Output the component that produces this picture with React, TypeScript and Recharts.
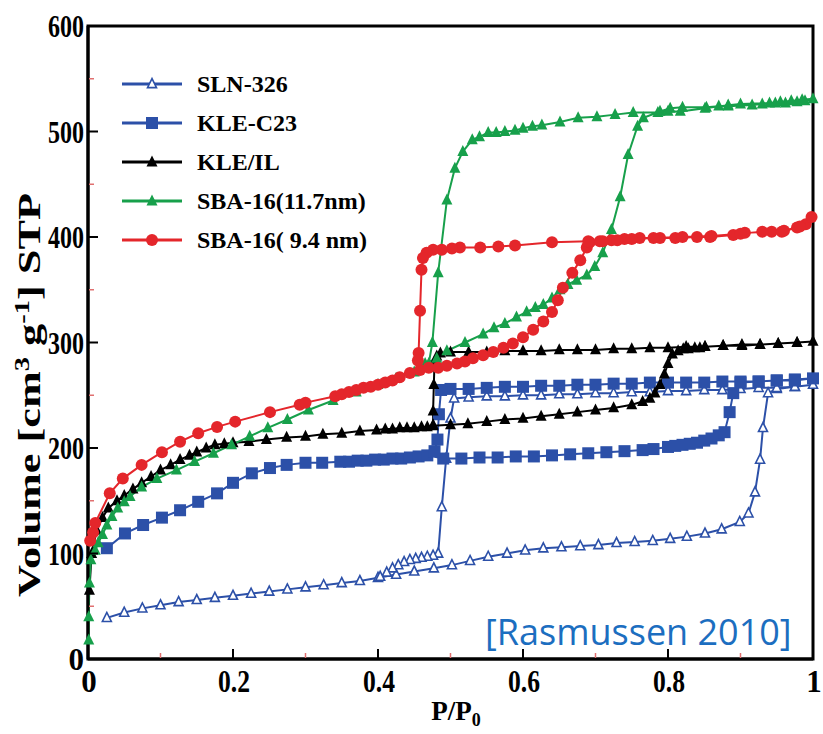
import React from 'react'
import { LineChart, Line, XAxis, YAxis, Legend, ReferenceArea } from 'recharts'

type Pt = [number, number]

// SLN-326 (open triangles)
const slnAds: Pt[] = [
  [0.026, 39], [0.05, 44], [0.075, 48], [0.1, 51], [0.125, 54], [0.15, 56], [0.175, 58], [0.2, 60],
  [0.225, 62], [0.25, 64], [0.275, 66], [0.3, 68], [0.325, 70], [0.35, 72], [0.375, 74], [0.4, 77],
  [0.425, 80], [0.45, 83], [0.477, 86], [0.502, 89], [0.527, 93], [0.552, 97], [0.578, 100], [0.603, 103],
  [0.628, 105], [0.653, 106], [0.679, 107], [0.704, 108], [0.729, 110], [0.754, 111], [0.779, 112],
  [0.803, 114], [0.826, 116], [0.851, 119], [0.874, 123], [0.899, 130], [0.911, 138], [0.92, 158],
  [0.927, 189], [0.931, 219], [0.938, 252], [0.95, 256], [0.975, 258], [1.0, 260],
]
const slnDes: Pt[] = [
  [0.975, 258], [0.95, 257], [0.925, 257], [0.9, 256], [0.875, 255], [0.85, 255], [0.825, 254], [0.8, 254],
  [0.775, 253], [0.75, 253], [0.725, 252], [0.7, 252], [0.675, 251], [0.65, 251], [0.625, 250], [0.6, 250],
  [0.575, 249], [0.55, 249], [0.525, 248], [0.505, 247], [0.5, 228], [0.494, 190], [0.488, 144], [0.483, 100],
  [0.476, 98], [0.468, 97], [0.46, 96], [0.452, 95], [0.444, 94], [0.436, 92], [0.428, 89], [0.42, 86],
  [0.412, 82], [0.403, 78],
]

// KLE-C23 (filled squares)
const kleAds: Pt[] = [
  [0.026, 105], [0.051, 119], [0.076, 127], [0.102, 134], [0.127, 141], [0.152, 149], [0.178, 157], [0.2, 167],
  [0.226, 176], [0.251, 181], [0.274, 184], [0.3, 186], [0.323, 186], [0.348, 187], [0.36, 187], [0.372, 188],
  [0.384, 188], [0.396, 189], [0.408, 189], [0.42, 190], [0.432, 190], [0.444, 191], [0.456, 192], [0.468, 193],
  [0.49, 190], [0.515, 190], [0.54, 191], [0.565, 191], [0.59, 192], [0.615, 192], [0.64, 193], [0.665, 194],
  [0.69, 195], [0.715, 196], [0.74, 197], [0.765, 198], [0.78, 199], [0.8, 201], [0.81, 202], [0.82, 203],
  [0.83, 204], [0.84, 205], [0.85, 207], [0.86, 209], [0.87, 212], [0.878, 215], [0.885, 234], [0.89, 252],
  [0.9, 262], [0.925, 263], [0.95, 264], [0.975, 265], [1.0, 266],
]
const kleDes: Pt[] = [
  [0.975, 264], [0.95, 264], [0.925, 263], [0.9, 263], [0.875, 263], [0.85, 262], [0.825, 262], [0.8, 262],
  [0.775, 262], [0.75, 261], [0.725, 261], [0.7, 260], [0.675, 260], [0.65, 259], [0.625, 259], [0.6, 258],
  [0.575, 258], [0.55, 257], [0.525, 256], [0.5, 256], [0.487, 255], [0.484, 232], [0.482, 208], [0.478, 197],
]

// KLE/IL (filled black triangles)
const ilAds: Pt[] = [
  [0.002, 65], [0.005, 100], [0.012, 122], [0.02, 134], [0.028, 143], [0.04, 150], [0.05, 155], [0.062, 161],
  [0.074, 167], [0.087, 173], [0.1, 179], [0.114, 184], [0.127, 189], [0.14, 193], [0.15, 196], [0.163, 200],
  [0.175, 203], [0.188, 204], [0.2, 205], [0.222, 206], [0.246, 208], [0.274, 210], [0.3, 211], [0.324, 213],
  [0.35, 214], [0.375, 216], [0.398, 217], [0.41, 218], [0.42, 218], [0.43, 219], [0.44, 219], [0.45, 219],
  [0.46, 220], [0.468, 220], [0.476, 221], [0.5, 222], [0.524, 223], [0.55, 225], [0.575, 227], [0.6, 228],
  [0.625, 230], [0.65, 232], [0.675, 234], [0.7, 236], [0.725, 238], [0.75, 241], [0.765, 244], [0.775, 247],
  [0.782, 252], [0.789, 260], [0.795, 270], [0.8, 280], [0.806, 289], [0.814, 292], [0.821, 294], [0.828, 294],
  [0.837, 295], [0.844, 295], [0.851, 296], [0.876, 297], [0.902, 298], [0.927, 298], [0.952, 299],
  [0.978, 300], [1.0, 301],
]
const ilDes: Pt[] = [
  [0.978, 300], [0.952, 299], [0.927, 298], [0.902, 297], [0.876, 297], [0.851, 296], [0.825, 296], [0.8, 295],
  [0.775, 295], [0.75, 294], [0.725, 294], [0.7, 293], [0.675, 293], [0.65, 293], [0.625, 292], [0.6, 292],
  [0.575, 292], [0.55, 291], [0.525, 291], [0.5, 291], [0.486, 290], [0.481, 287], [0.478, 282], [0.477, 260],
  [0.476, 235], [0.476, 222],
]

// SBA-16 (11.7 nm) (filled green triangles)
const sbaLargeAds: Pt[] = [
  [0.001, 18], [0.001, 40], [0.002, 72], [0.004, 94], [0.01, 103], [0.014, 110], [0.02, 118], [0.026, 127],
  [0.033, 135], [0.041, 143], [0.05, 149], [0.058, 154], [0.074, 163], [0.095, 171], [0.122, 179], [0.147, 187],
  [0.173, 195], [0.198, 203], [0.223, 211], [0.248, 219], [0.275, 227], [0.304, 236], [0.338, 245], [0.37, 253],
  [0.4, 260], [0.425, 266], [0.45, 272], [0.465, 280], [0.481, 285], [0.495, 292], [0.52, 300], [0.545, 308],
  [0.56, 314], [0.575, 318], [0.591, 324], [0.605, 329], [0.617, 333], [0.628, 336], [0.64, 342], [0.651, 350],
  [0.662, 355], [0.674, 359], [0.688, 364], [0.699, 372], [0.71, 385], [0.722, 407], [0.734, 438], [0.745, 478],
  [0.758, 505], [0.766, 513], [0.789, 519], [0.803, 522], [0.82, 523], [0.853, 523], [0.87, 524], [0.883, 524],
  [0.916, 525], [0.93, 526], [0.948, 527], [0.962, 527], [0.978, 528], [0.989, 529], [1.0, 531],
]
const sbaLargeDes: Pt[] = [
  [0.985, 530], [0.97, 529], [0.955, 528], [0.94, 527], [0.9, 526], [0.883, 525], [0.851, 522], [0.817, 519],
  [0.8, 519], [0.786, 518], [0.752, 518], [0.727, 516], [0.702, 514], [0.676, 513], [0.651, 509], [0.626, 506],
  [0.613, 505], [0.6, 503], [0.589, 501], [0.575, 500], [0.563, 499], [0.552, 499], [0.54, 495], [0.53, 492],
  [0.517, 481], [0.506, 465], [0.495, 435], [0.483, 366], [0.475, 300], [0.47, 280],
]

// SBA-16 (9.4 nm) (filled red circles)
const sbaSmallAds: Pt[] = [
  [0.003, 112], [0.007, 120], [0.01, 129], [0.03, 157], [0.048, 171], [0.074, 184], [0.102, 196], [0.127, 206],
  [0.152, 214], [0.178, 220], [0.203, 225], [0.251, 234], [0.292, 241], [0.3, 243], [0.341, 249], [0.35, 251],
  [0.36, 253], [0.37, 255], [0.38, 257], [0.39, 258], [0.4, 260], [0.41, 262], [0.42, 264], [0.43, 267],
  [0.444, 271], [0.458, 274], [0.47, 276], [0.483, 276], [0.495, 278], [0.509, 280], [0.52, 282], [0.531, 285],
  [0.545, 288], [0.559, 291], [0.573, 295], [0.586, 299], [0.6, 305], [0.614, 312], [0.628, 320], [0.64, 329],
  [0.648, 340], [0.655, 352], [0.668, 366], [0.679, 378], [0.688, 390], [0.692, 395], [0.706, 396], [0.722, 397],
  [0.74, 398], [0.761, 399], [0.789, 399], [0.81, 399], [0.84, 400], [0.858, 400], [0.89, 402], [0.906, 404],
  [0.943, 405], [0.957, 405], [0.978, 409], [0.99, 412], [0.998, 419],
]
const sbaSmallDes: Pt[] = [
  [0.982, 410], [0.96, 406], [0.93, 405], [0.9, 403], [0.86, 401], [0.82, 400], [0.78, 399], [0.75, 398],
  [0.73, 397], [0.71, 396], [0.69, 396], [0.64, 395], [0.589, 392], [0.566, 391], [0.541, 390], [0.513, 390],
  [0.502, 389], [0.488, 388], [0.476, 388], [0.467, 385], [0.462, 380], [0.46, 369], [0.458, 330], [0.456, 290],
  [0.455, 283],
]

const xMajorTicks = [0, 0.2, 0.4, 0.6, 0.8, 1]
const xTickLabels = ['0', '0.2', '0.4', '0.6', '0.8', '1']
const xMinorTicks = [0.1, 0.3, 0.5, 0.7, 0.9]
const yMajorTicks = [0, 100, 200, 300, 400, 500, 600]
const yTickLabels = ['0', '100', '200', '300', '400', '500', '600']
const yMinorTicks = [50, 150, 250, 350, 450, 550]

const BLUE = '#2c50a8'
const GREEN = '#17a04b'
const RED = '#e4262b'
const SERIF = '"Liberation Serif", "Times New Roman", serif'

type Kind = 'openTri' | 'square' | 'tri' | 'circle'

const toRows = (a: Pt[], d: Pt[]) => [...a, ...d].map(([x, y]) => ({ x, y }))

const series = [
  { name: 'SLN-326', color: BLUE, kind: 'openTri' as Kind, data: toRows(slnAds, slnDes) },
  { name: 'KLE-C23', color: BLUE, kind: 'square' as Kind, data: toRows(kleAds, kleDes) },
  { name: 'KLE/IL', color: '#000000', kind: 'tri' as Kind, data: toRows(ilAds, ilDes) },
  { name: 'SBA-16(11.7nm)', color: GREEN, kind: 'tri' as Kind, data: toRows(sbaLargeAds, sbaLargeDes) },
  { name: 'SBA-16( 9.4 nm)', color: RED, kind: 'circle' as Kind, data: toRows(sbaSmallAds, sbaSmallDes) },
]

function marker(kind: Kind, color: string, cx: number, cy: number, key?: string) {
  if (kind === 'circle') return <circle key={key} cx={cx} cy={cy} r={6} fill={color} />
  if (kind === 'square') return <rect key={key} x={cx - 6} y={cy - 6} width={12} height={12} fill={color} />
  const s = kind === 'openTri' ? 9 : 11
  const pts = `${cx},${cy - s * 0.6} ${cx - s / 2},${cy + s * 0.4} ${cx + s / 2},${cy + s * 0.4}`
  if (kind === 'openTri') return <polygon key={key} points={pts} fill="#fff" stroke={color} strokeWidth={1.6} />
  return <polygon key={key} points={pts} fill={color} />
}

const XTick = (props: any) => {
  const { x, y, payload } = props
  const i = xMajorTicks.indexOf(payload.value)
  if (i < 0) {
    return <line x1={x} x2={x} y1={y - 1} y2={y - 6} stroke="#e07070" strokeWidth={1.5} />
  }
  const label = xTickLabels[i]
  return (
    <g>
      <line x1={x} x2={x} y1={y} y2={y - 10} stroke="#000" strokeWidth={2} />
      <text x={x + 1} y={y + 33} textAnchor="middle" fontFamily={SERIF} fontWeight="bold" fontSize={31}
        textLength={label.length > 1 ? 32 : undefined} lengthAdjust="spacingAndGlyphs" fill="#000">
        {label}
      </text>
    </g>
  )
}

const YTick = (props: any) => {
  const { x, y, payload } = props
  const i = yMajorTicks.indexOf(payload.value)
  if (i < 0) {
    return <line x1={x + 1} x2={x + 6} y1={y} y2={y} stroke="#e07070" strokeWidth={1.5} />
  }
  const label = yTickLabels[i]
  return (
    <g>
      <line x1={x} x2={x + 10} y1={y} y2={y} stroke="#000" strokeWidth={2} />
      <text x={x - 4} y={y + 11} textAnchor="end" fontFamily={SERIF} fontWeight="bold" fontSize={31}
        textLength={label.length > 1 ? 36 : undefined} lengthAdjust="spacingAndGlyphs" fill="#000">
        {label}
      </text>
    </g>
  )
}

const renderLegend = () => (
  <div style={{ fontFamily: SERIF, fontWeight: 'bold', fontSize: 24, color: '#000' }}>
    {series.map((s) => (
      <div key={s.name} style={{ display: 'flex', alignItems: 'center', height: 39 }}>
        <svg width={75} height={20} style={{ display: 'block' }}>
          <line x1={0} x2={60} y1={10} y2={10} stroke={s.color} strokeWidth={3} />
          {marker(s.kind, s.color, 30, 10)}
        </svg>
        <span style={{ whiteSpace: 'pre', lineHeight: '24px' }}>{s.name}</span>
      </div>
    ))}
  </div>
)

const XLabel = () => (
  <text x={456} y={720} textAnchor="middle" fontFamily={SERIF} fontWeight="bold" fontSize={27} fill="#000">
    P/P<tspan fontSize={18} dy={6}>0</tspan>
  </text>
)

const YLabel = () => (
  <text x={0} y={0} transform="translate(40 395) rotate(-90)" textAnchor="middle" fontFamily={SERIF}
    fontWeight="bold" fontSize={31} fill="#000" textLength={404} lengthAdjust="spacingAndGlyphs">
    Volume [cm<tspan fontSize={20} dy={-11}>3</tspan><tspan dy={11}> g</tspan>
    <tspan fontSize={20} dy={-11}>-1</tspan><tspan dy={11}>] STP</tspan>
  </text>
)

export default function App() {
  return (
    <div style={{ position: 'absolute', left: 0, top: 0, width: 823, height: 734, background: '#fff' }}>
      <LineChart width={823} height={734} margin={{ top: 26, right: 10, bottom: 74, left: 87 }}>
        <XAxis
          dataKey="x"
          type="number"
          domain={[0, 1]}
          ticks={[...xMajorTicks, ...xMinorTicks].sort((a, b) => a - b)}
          interval={0}
          height={1}
          tickSize={0}
          tickMargin={0}
          tickLine={false}
          tick={<XTick />}
          axisLine={{ stroke: '#000', strokeWidth: 3 }}
          label={{ content: XLabel }}
        />
        <YAxis
          dataKey="y"
          type="number"
          domain={[0, 600]}
          ticks={[...yMajorTicks, ...yMinorTicks].sort((a, b) => a - b)}
          interval={0}
          width={1}
          tickSize={0}
          tickMargin={0}
          tickLine={false}
          tick={<YTick />}
          axisLine={{ stroke: '#000', strokeWidth: 3 }}
          label={{ content: YLabel }}
        />
        <ReferenceArea x1={0} x2={1} y1={0} y2={600} fill="none" stroke="#000" strokeWidth={3} />
        {series.map((s) => (
          <Line
            key={s.name}
            name={s.name}
            data={s.data}
            dataKey="y"
            type="linear"
            stroke={s.color}
            strokeWidth={2}
            isAnimationActive={false}
            activeDot={false}
            dot={(p: any) => marker(s.kind, s.color, p.cx, p.cy, `${s.name}-${p.index}`)}
          />
        ))}
        <Legend
          layout="vertical"
          align="center"
          verticalAlign="middle"
          content={renderLegend}
          wrapperStyle={{ position: 'absolute', left: 122, top: 64, width: 320 }}
        />
      </LineChart>
      <svg width={823} height={734} style={{ position: 'absolute', left: 0, top: 0, pointerEvents: 'none' }}>
        <text x={485} y={645} fontFamily='"Open Sans", "Noto Sans", sans-serif' fontSize={36} fill="#1c6ec0">
          [Rasmussen 2010]
        </text>
      </svg>
    </div>
  )
}
